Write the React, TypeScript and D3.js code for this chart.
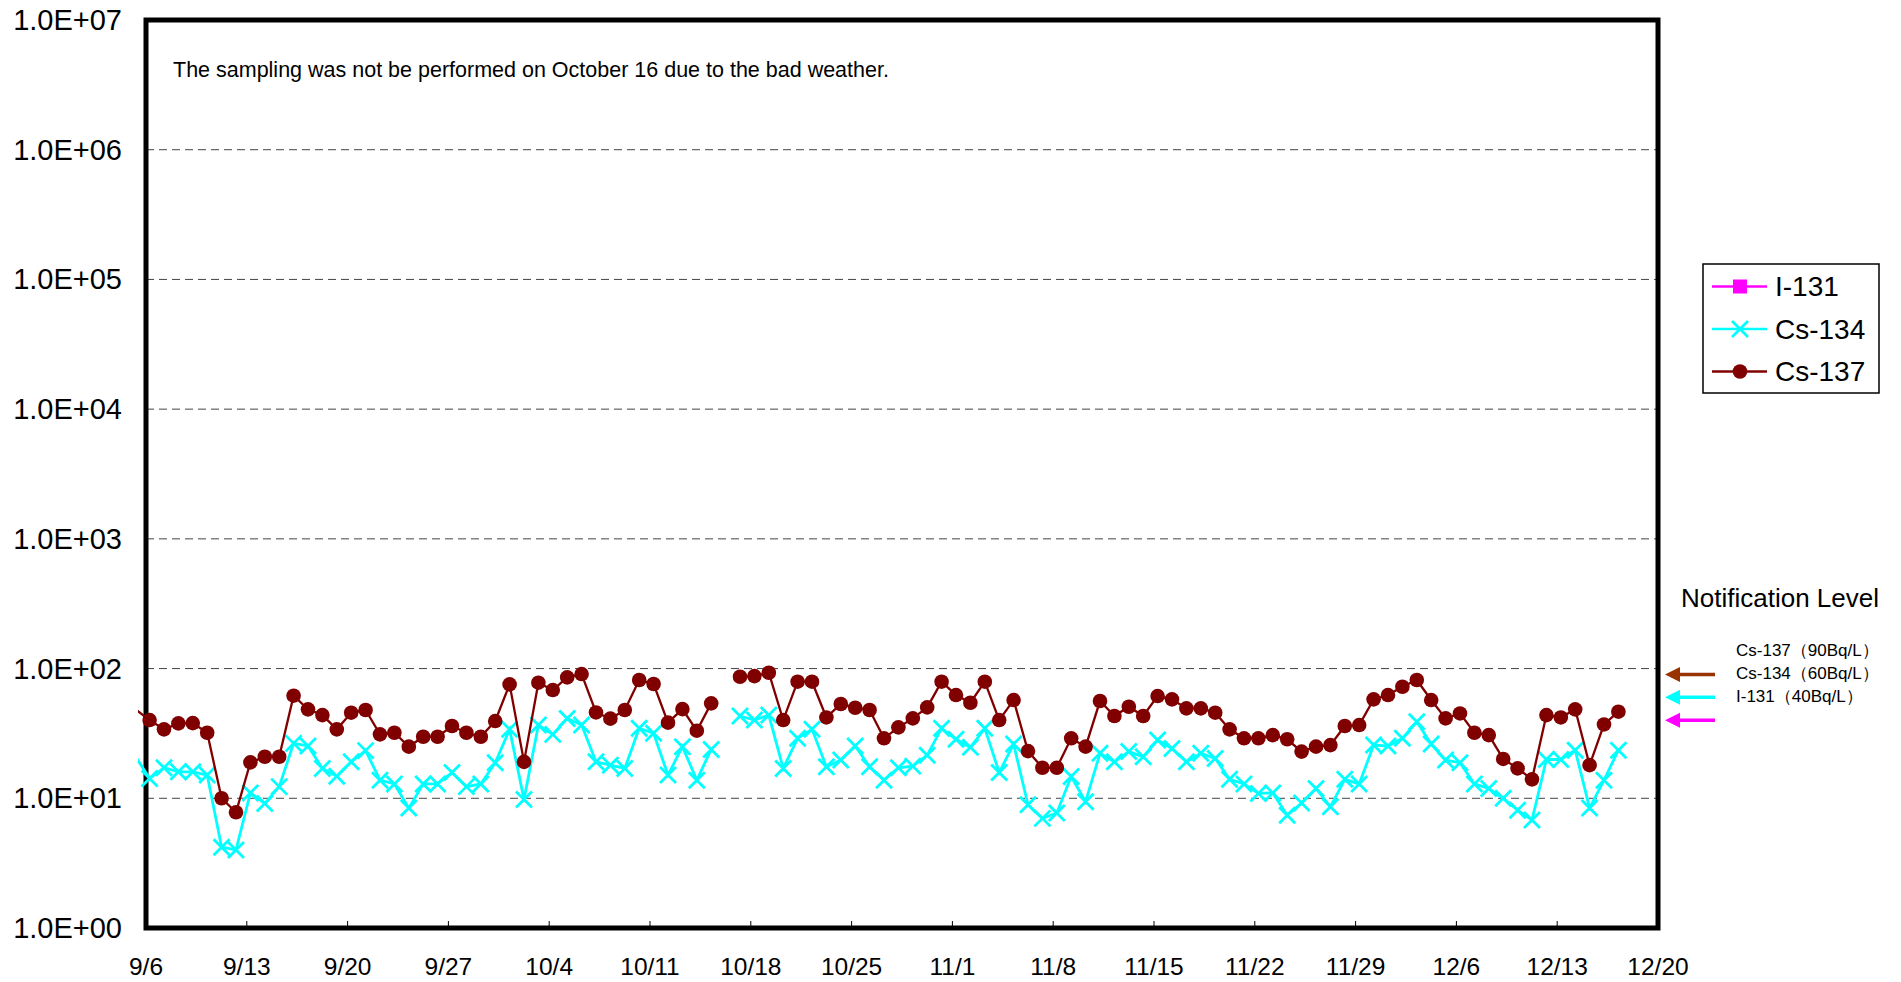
import * as d3 from 'd3';

const width = 1901;
const height = 982;
const marginLeft = 146;
const marginRight = 243;
const marginTop = 20;
const marginBottom = 54;

// sampling days 9/5 .. 12/17 (9/5 only shows as the clipped line entering the plot)
const firstDay = new Date(Date.UTC(2013, 8, 5));
const lastDay = new Date(Date.UTC(2013, 11, 18));
const sampleHour = 6;
const axisStart = new Date(Date.UTC(2013, 8, 6));
const axisEnd = new Date(Date.UTC(2013, 11, 20));
const tickStepDays = 7;

// Bq/L, null = no sampling (10/16)
const cs137 = [
  48.7, 40.1, 34.0, 37.8, 38.0, 32.0, 10.0, 7.8, 18.9, 20.9, 20.9, 61.8, 48.5, 43.8, 34.0, 45.7,
  47.9, 31.1, 32.0, 25.0, 29.8, 29.8, 36.1, 32.0, 29.8, 39.4,
  75.5, 19.1, 77.8, 68.3, 85.5, 90.7, 45.9, 41.1, 47.9, 81.6, 76.0, 38.3, 48.7, 33.2, 53.9, null,
  86.5, 87.5, 92.9, 40.1, 79.2, 79.2, 42.0, 53.3, 49.9, 47.9, 29.0, 35.2, 41.3, 50.2, 79.2,
  62.5, 54.5, 79.2, 40.1, 57.2, 23.1, 17.2, 17.2, 29.0, 25.0, 56.2, 43.1, 50.8, 43.1, 61.4,
  57.9, 49.3, 49.3, 45.7, 34.0, 29.0, 29.0, 30.7, 28.5, 22.9, 25.0, 25.7, 36.1, 36.7, 57.9,
  62.5, 72.4, 81.6, 57.2, 41.3, 45.1, 32.0, 30.7, 20.1, 17.0, 14.0, 43.8, 42.0, 48.5, 18.0, 37.1, 46.5,
];
const cs134 = [
  21.2, 14.2, 17.2, 16.0, 16.0, 15.1, 4.2, 4.0, 11.0, 9.1, 12.3, 26.5, 25.3, 17.0, 14.8, 19.1,
  23.3, 13.8, 12.9, 8.4, 12.9, 12.9, 15.8, 12.3, 12.9, 18.8,
  34.0, 9.8, 36.7, 31.1, 41.3, 36.7, 19.1, 18.0, 17.0, 34.6, 31.7, 15.1, 25.0, 13.8, 23.8, null,
  43.1, 40.1, 43.8, 17.0, 29.0, 34.0, 17.5, 19.7, 25.3, 17.5, 13.8, 17.2, 17.7, 21.5, 34.6,
  28.5, 24.7, 34.6, 15.8, 26.2, 8.9, 7.0, 7.7, 14.7, 9.4, 22.2, 19.1, 22.9, 20.9, 28.1,
  24.2, 19.1, 22.2, 20.3, 14.0, 12.9, 10.9, 11.0, 7.4, 9.2, 11.9, 8.6, 14.0, 12.9, 25.7,
  25.3, 29.0, 38.9, 26.2, 19.7, 18.8, 12.9, 11.9, 10.0, 8.1, 6.8, 19.9, 19.9, 23.5, 8.4, 13.8, 23.5,
];
// I-131 not detected in the period
const i131: (number | null)[] = [];

const yTicks = [1, 1e1, 1e2, 1e3, 1e4, 1e5, 1e6, 1e7];
const yLabels = ['1.0E+00', '1.0E+01', '1.0E+02', '1.0E+03', '1.0E+04', '1.0E+05', '1.0E+06', '1.0E+07'];

const legendNames = ['I-131', 'Cs-134', 'Cs-137'];
const levelValues = [90, 60, 40];
const levelColors = ['#993300', '#00FFFF', '#FF00FF'];
const levelLabels = ['Cs-137（90Bq/L）', 'Cs-134（60Bq/L）', 'I-131（40Bq/L）'];

const note = 'The sampling was not be performed on October 16 due to the bad weather.';

const font = 'Arial, "Liberation Sans", sans-serif';
const maroon = '#800000';
const cyan = '#00FFFF';
const magenta = '#FF00FF';

const days = d3.utcDay.range(firstDay, lastDay);

const x = d3.scaleUtc().domain([axisStart, axisEnd]).range([marginLeft, width - marginRight]);
const y = d3.scaleLog().domain([1, 1e7]).range([height - marginBottom, marginTop]);

type Pt = { t: Date; v: number | null };
const toPoints = (vals: (number | null)[]): Pt[] =>
  vals.map((v, i) => ({ t: d3.utcHour.offset(days[i], sampleHour), v }));

const line = d3
  .line<Pt>()
  .defined((d) => d.v != null)
  .x((d) => x(d.t))
  .y((d) => y(d.v as number));

const nTicks = Math.round(d3.utcDay.count(axisStart, axisEnd) / tickStepDays) + 1;
const xTicks = d3.range(nTicks).map((k) => d3.utcDay.offset(axisStart, k * tickStepDays));
const fmt = d3.utcFormat('%-m/%-d');

function Marker({ kind, cx, cy }: { kind: string; cx: number; cy: number }) {
  if (kind === 'I-131')
    return <rect x={cx - 7} y={cy - 7} width={14} height={14} fill={magenta} />;
  if (kind === 'Cs-134')
    return (
      <path
        d={`M${cx - 8},${cy - 8}L${cx + 8},${cy + 8}M${cx - 8},${cy + 8}L${cx + 8},${cy - 8}`}
        stroke={cyan}
        strokeWidth={2.8}
        fill="none"
      />
    );
  return <circle cx={cx} cy={cy} r={7.3} fill={maroon} />;
}

export default function App() {
  const plotW = width - marginRight - marginLeft;
  const plotH = height - marginBottom - marginTop;
  const series = [
    { name: 'I-131', pts: toPoints(i131), color: magenta, w: 2.5 },
    { name: 'Cs-134', pts: toPoints(cs134), color: cyan, w: 2.8 },
    { name: 'Cs-137', pts: toPoints(cs137), color: maroon, w: 2.3 },
  ];
  const legendX = 1703;
  const legendY = 264;
  const legendRow = 42.5;
  const arrowX = width - marginRight + 7;

  return (
    <svg
      width={width}
      height={height}
      style={{ position: 'absolute', left: 0, top: 0, background: '#fff' }}
      fontFamily={font}
    >
      <defs>
        <clipPath id="plot-clip">
          <rect x={marginLeft - 8} y={marginTop} width={plotW + 8} height={plotH} />
        </clipPath>
      </defs>
      <rect width={width} height={height} fill="#fff" />

      {/* grid */}
      {yTicks.slice(1, -1).map((v) => (
        <line
          key={v}
          x1={marginLeft}
          x2={marginLeft + plotW}
          y1={y(v)}
          y2={y(v)}
          stroke="#444"
          strokeWidth={1}
          strokeDasharray="8,5"
        />
      ))}

      {/* x ticks */}
      {xTicks.map((t) => (
        <g key={+t}>
          <line x1={x(t)} x2={x(t)} y1={height - marginBottom} y2={height - marginBottom - 7} stroke="#000" strokeWidth={1} />
          <text x={x(t)} y={975} textAnchor="middle" fontSize={24.5}>
            {fmt(t)}
          </text>
        </g>
      ))}

      {/* y labels */}
      {yTicks.map((v, i) => (
        <text key={v} x={122} y={y(v)} textAnchor="end" dominantBaseline="central" fontSize={29}>
          {yLabels[i]}
        </text>
      ))}

      <rect x={marginLeft} y={marginTop} width={plotW} height={plotH} fill="none" stroke="#000" strokeWidth={5} />

      {/* series */}
      <g clipPath="url(#plot-clip)">
        {series.map((s) => (
          <g key={s.name}>
            <path d={line(s.pts) || ''} fill="none" stroke={s.color} strokeWidth={s.w} />
            {s.pts
              .filter((p) => p.v != null && p.t >= axisStart)
              .map((p) => (
                <Marker key={+p.t} kind={s.name} cx={x(p.t)} cy={y(p.v as number)} />
              ))}
          </g>
        ))}
      </g>

      <text x={173} y={77} fontSize={21.5}>
        {note}
      </text>

      {/* legend */}
      <rect x={legendX} y={legendY} width={176} height={129} fill="#fff" stroke="#000" strokeWidth={1.5} />
      {legendNames.map((n, i) => {
        const s = series.find((d) => d.name === n)!;
        const cy = legendY + 22.5 + i * legendRow;
        return (
          <g key={n}>
            <line x1={legendX + 9} x2={legendX + 64} y1={cy} y2={cy} stroke={s.color} strokeWidth={2.5} />
            <Marker kind={n} cx={legendX + 37} cy={cy} />
            <text x={legendX + 72} y={cy} dominantBaseline="central" fontSize={28}>
              {n}
            </text>
          </g>
        );
      })}

      {/* notification levels */}
      <text x={1681} y={607} fontSize={26}>
        Notification Level
      </text>
      {levelValues.map((v, i) => {
        const ly = y(v);
        return (
          <g key={v}>
            <path d={`M${arrowX},${ly}L${arrowX + 15},${ly - 7.5}L${arrowX + 15},${ly + 7.5}Z`} fill={levelColors[i]} />
            <line x1={arrowX + 12} x2={arrowX + 50} y1={ly} y2={ly} stroke={levelColors[i]} strokeWidth={3.5} />
            <text x={1736} y={ly - 24} dominantBaseline="central" fontSize={17}>
              {levelLabels[i]}
            </text>
          </g>
        );
      })}
    </svg>
  );
}
